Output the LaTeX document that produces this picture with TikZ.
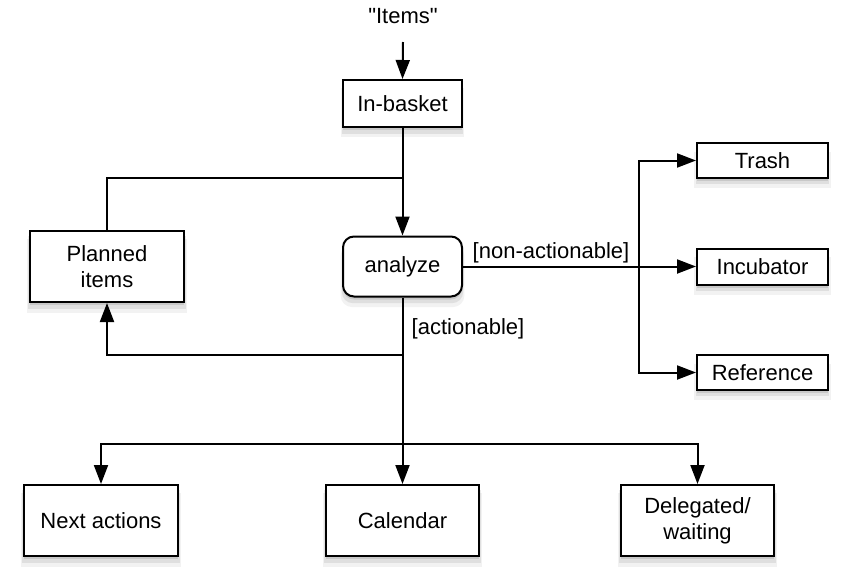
\documentclass[tikz,border=0pt]{standalone}
\usepackage{fontspec}
\setmainfont{Liberation Sans}[Ligatures=TeXOff]
\usetikzlibrary{arrows.meta,shadows}
\tikzset{
  shad/.style={
    drop shadow={shadow xshift=0pt,shadow yshift=-3pt,opacity=.10,fill=black},
    drop shadow={shadow xshift=0pt,shadow yshift=-6pt,opacity=.08,fill=black,shadow scale=1.02},
    drop shadow={shadow xshift=0pt,shadow yshift=-9pt,opacity=.05,fill=black,shadow scale=1.04}},
  box/.style={draw=black,line width=2pt,fill=white,shad,inner sep=0pt,align=center,
    font=\fontsize{22}{26}\selectfont},
  lbl/.style={font=\fontsize{22}{26}\selectfont,inner sep=0pt},
  arr/.style={line width=2pt,-{Triangle[length=19pt,width=14pt]}},
  ln/.style={line width=2pt},
}
\begin{document}
\begin{tikzpicture}[x=1pt,y=-1pt]
\useasboundingbox (0,0) rectangle (849,587);
\node[lbl] (items) at (403,16) {"Items"};
\coordinate (itemsend) at (403,42);
\node[box,minimum width=119pt,minimum height=47pt] (inbasket) at (402.5,103.5) {In-basket};
\node[box,rounded corners=11pt,minimum width=119pt,minimum height=60pt] (analyze) at (402.5,266.5) {analyze};
\node[box,minimum width=154pt,minimum height=71pt] (planned) at (107,266.5) {Planned\\items};
\node[box,minimum width=131pt,minimum height=35pt] (trash) at (762.5,160.5) {Trash};
\node[box,minimum width=131pt,minimum height=36pt] (incubator) at (762.5,266.5) {Incubator};
\node[box,minimum width=131pt,minimum height=35pt] (reference) at (762.5,372.5) {Reference};
\node[box,minimum width=154pt,minimum height=71pt] (next) at (101,520.5) {Next actions};
\node[box,minimum width=153pt,minimum height=71pt] (calendar) at (402.5,520.5) {Calendar};
\node[box,minimum width=153pt,minimum height=71pt] (delegated) at (697.5,520.5) {Delegated/\\waiting};
\coordinate (join) at (402.5,178);
\coordinate (back) at (402.5,355);
\coordinate (split) at (402.5,444);
\coordinate (fork) at (639,266.5);
\node[lbl] (na) at (551,253) {[non-actionable]};
\node[lbl] (ac) at (468,328.5) {[actionable]};
% connectors
\draw[arr] (itemsend) -- (inbasket.north);
\draw[arr] (inbasket.south) -- (analyze.north);
\draw[ln] (planned.north) |- (join);
\draw[ln] (analyze.south) -- (split);
\draw[arr] (back) -| (planned.south);
\draw[arr] (split) -- (calendar.north);
\draw[arr] (split) -| (next.north);
\draw[arr] (split) -| (delegated.north);
\draw[arr] (analyze.east) -- (incubator.west);
\draw[arr] (fork) |- (trash.west);
\draw[arr] (fork) |- (reference.west);
\end{tikzpicture}
\end{document}
